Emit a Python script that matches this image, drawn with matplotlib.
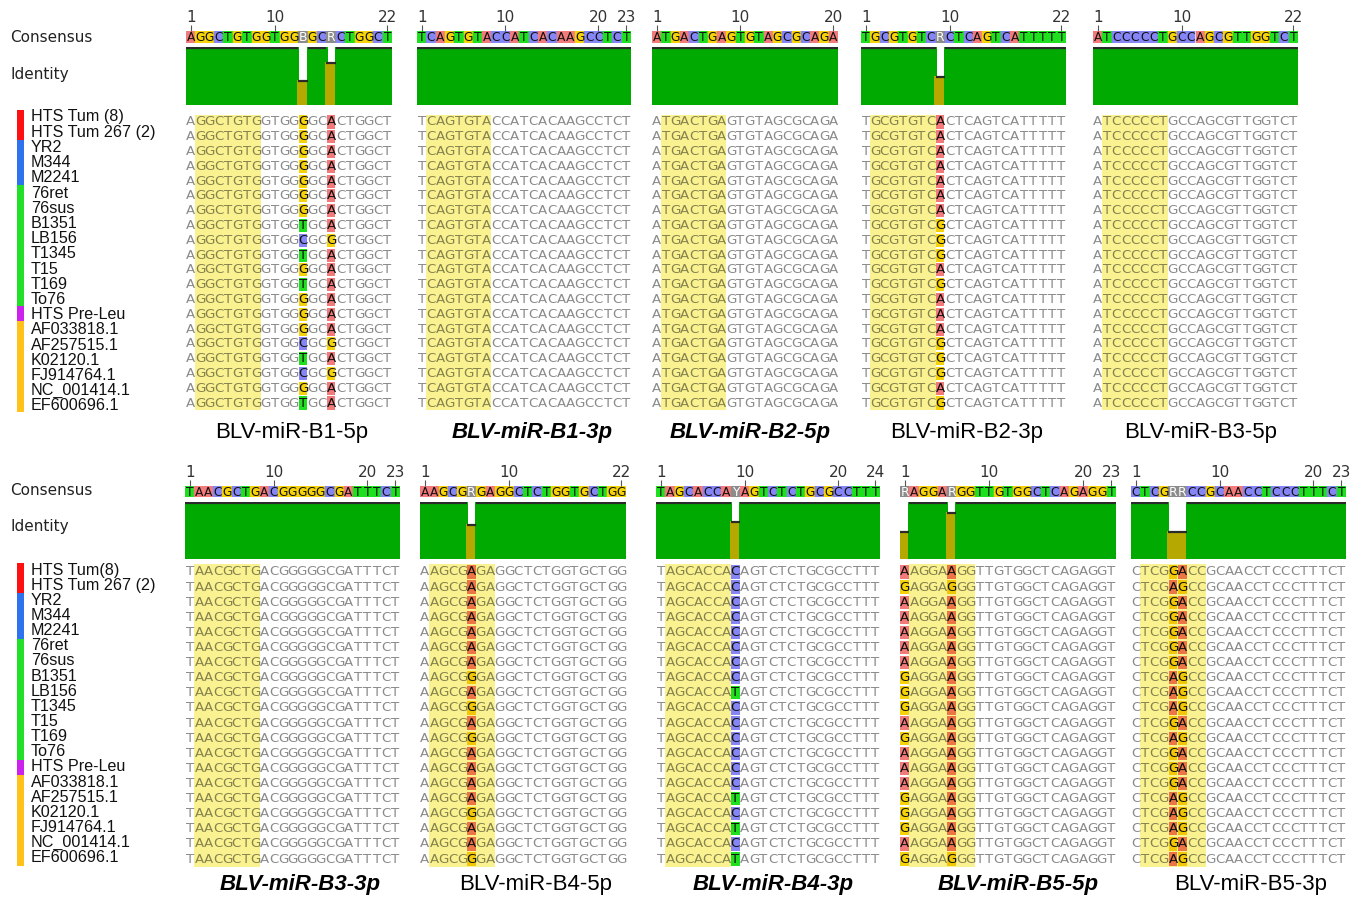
import matplotlib
matplotlib.use("Agg")
import matplotlib.pyplot as plt
from matplotlib.patches import Rectangle
from matplotlib.colors import to_rgb
from collections import Counter

W, H = 1351, 897

# ---------------- data ----------------
sample_labels_top = ["HTS Tum (8)", "HTS Tum 267 (2)", "YR2", "M344", "M2241", "76ret", "76sus",
                     "B1351", "LB156", "T1345", "T15", "T169", "To76", "HTS Pre-Leu",
                     "AF033818.1", "AF257515.1", "K02120.1", "FJ914764.1", "NC_001414.1", "EF600696.1"]
sample_labels_bottom = ["HTS Tum(8)", "HTS Tum 267 (2)", "YR2", "M344", "M2241", "76ret", "76sus",
                        "B1351", "LB156", "T1345", "T15", "T169", "To76", "HTS Pre-Leu",
                        "AF033818.1", "AF257515.1", "K02120.1", "FJ914764.1", "NC_001414.1", "EF600696.1"]
group_sizes = [2, 3, 8, 1, 6]
group_colors = ["#ff1010", "#2f72f0", "#22e02a", "#cc22ee", "#ffc21a"]

mirna_names = ["BLV-miR-B1-5p", "BLV-miR-B1-3p", "BLV-miR-B2-5p", "BLV-miR-B2-3p", "BLV-miR-B3-5p",
               "BLV-miR-B3-3p", "BLV-miR-B4-5p", "BLV-miR-B4-3p", "BLV-miR-B5-5p", "BLV-miR-B5-3p"]
title_bold = [False, True, True, False, False, True, False, True, True, False]

consensus_seqs = ["AGGCTGTGGTGGBGCRCTGGCT",
                  "TCAGTGTACCATCACAAGCCTCT",
                  "ATGACTGAGTGTAGCGCAGA",
                  "TGCGTGTCRCTCAGTCATTTTT",
                  "ATCCCCCTGCCAGCGTTGGTCT",
                  "TAACGCTGACGGGGGCGATTTCT",
                  "AAGCGRGAGGCTCTGGTGCTGG",
                  "TAGCACCAYAGTCTCTGCGCCTTT",
                  "RAGGARGGTTGTGGCTCAGAGGT",
                  "CTCGRRCCGCAACCTCCCTTTCT"]

# position ruler labels shown above each consensus
ruler_ticks = [[1, 10, 22], [1, 10, 20, 23], [1, 10, 20], [1, 10, 22], [1, 10, 22],
               [1, 10, 20, 23], [1, 10, 22], [1, 10, 20, 24], [1, 10, 20, 23], [1, 10, 20, 23]]

# variable columns: position -> bases of the 20 samples (top to bottom)
variable_columns = [
    {13: "GGGGGGGTCTGTGGGCTCGT", 16: "AAAAAAAAGAAAAAAGAGAA"},
    {},
    {},
    {9: "AAAAAAAGGGAGAAAGGGAG"},
    {},
    {},
    {6: "AAAAAAAGAGAGAAAAGAAG"},
    {9: "CCCCCCCCTCCCCCCTCTCT"},
    {1: "AGAAAAAGGGAGAAAGGGAG", 6: "AGAAAAAAAAAAAAAAAAAG"},
    {5: "GAGGGGGAAAGAGGGAAAGA", 6: "AGAAAAAGGGAGAAAGGGAG"},
]
seed_positions = (2, 8)

# ---------------- layout (pixels) ----------------
panel_x = [(186, 392), (417, 631), (652, 838), (861, 1066), (1093, 1298),
           (185, 400), (420, 626), (656, 880), (900, 1116), (1131, 1346)]
rows_layout = [
    dict(cons=(31, 43), ident=(47, 105), seq=(114.6, 410.4), title=432,
         lab_cons=37, lab_ident=74, lab_first=117, lab_step=15.2, bar=(110, 412)),
    dict(cons=(486, 497), ident=(502, 559), seq=(564.4, 866.6), title=884,
         lab_cons=490, lab_ident=527, lab_first=570, lab_step=15.15, bar=(563, 866)),
]
title_offset = [3, 8, 5, 3, 5, 8, 13, 5, 10, 12]

NUC = {"A": "#f27a7a", "C": "#8585f5", "G": "#f6d20a", "T": "#1fe01f"}
AMBIG = "#8c8c8c"
HILITE = "#faf290"
GREEN = "#00aa00"
OLIVE = "#b5a800"


def multiply(c1, c2):
    a, b = to_rgb(c1), to_rgb(c2)
    return tuple(x * y for x, y in zip(a, b))


def rect(x0, y0, x1, y1):
    return [x0 / W, 1 - y1 / H, (x1 - x0) / W, (y1 - y0) / H]


def identity(col):
    n = len(col)
    cnt = Counter(col)
    same = sum(v * (v - 1) / 2 for v in cnt.values())
    return 100.0 * same / (n * (n - 1) / 2)


fig = plt.figure(figsize=(W / 100, H / 100), dpi=100)

nrows = len(sample_labels_top)

for p, cons in enumerate(consensus_seqs):
    L = rows_layout[p // 5]
    x0, x1 = panel_x[p]
    n = len(cons)
    reads = []
    for r in range(nrows):
        s = list(cons)
        for pos, col in variable_columns[p].items():
            s[pos - 1] = col[r]
        reads.append(s)

    # consensus strip
    ax = fig.add_axes(rect(x0, L["cons"][0], x1, L["cons"][1]))
    ax.set_xlim(0.5, n + 0.5)
    ax.set_ylim(0, 1)
    for i, ch in enumerate(cons, start=1):
        fc = NUC.get(ch, AMBIG)
        ax.add_patch(Rectangle((i - 0.5, 0), 1, 1, facecolor=fc, edgecolor=fc, linewidth=0.3))
        ax.text(i, 0.45, ch, ha="center", va="center", fontsize=8.8,
                color="white" if ch not in NUC else "#111111")
    ax.set_xticks(ruler_ticks[p])
    ax.set_yticks([])
    ax.xaxis.set_ticks_position("top")
    ax.tick_params(axis="x", top=True, bottom=False, length=4, width=0.8, color="#555555",
                   labelsize=11, labelcolor="#333333", pad=0.5)
    for s in ax.spines.values():
        s.set_visible(False)

    # identity bars
    ax = fig.add_axes(rect(x0, L["ident"][0], x1, L["ident"][1]))
    idv = [identity([reads[r][i] for r in range(nrows)]) for i in range(n)]
    pos = list(range(1, n + 1))
    cols = [GREEN if v >= 99.9 else OLIVE for v in idv]
    bars = ax.bar(pos, idv, width=1.0, color=cols, edgecolor=cols, linewidth=0.8)
    for b in bars:
        b.set_snap(False)
        b.set_antialiased(False)
    for i, v in zip(pos, idv):
        ax.plot([i - 0.5, i + 0.5], [v, v], color="#2a2a2a", lw=1.6, solid_capstyle="butt")
    ax.set_xlim(0.5, n + 0.5)
    ax.set_ylim(0, 101)
    ax.axis("off")

    # sequences
    ax = fig.add_axes(rect(x0, L["seq"][0], x1, L["seq"][1]))
    ax.set_xlim(0.5, n + 0.5)
    ax.set_ylim(nrows + 0.5, 0.5)
    ax.axis("off")
    s0, s1 = seed_positions
    ax.add_patch(Rectangle((s0 - 0.5, 0.5), s1 - s0 + 1, nrows, facecolor=HILITE, edgecolor="none"))
    for r in range(nrows):
        for i, ch in enumerate(reads[r], start=1):
            inseed = s0 <= i <= s1
            if i in variable_columns[p]:
                c = NUC[ch]
                if inseed:
                    c = multiply(c, HILITE)
                ax.add_patch(Rectangle((i - 0.45, r + 1 - 0.44), 0.9, 0.88, facecolor=c, edgecolor="none"))
                tc = "#111111"
            else:
                tc = "#85824e" if inseed else "#8a8a8a"
            ax.text(i, r + 1, ch, ha="center", va="center", fontsize=9.6, color=tc)

    # title
    fig.text(((x0 + x1) / 2 + title_offset[p]) / W, 1 - L["title"] / H, mirna_names[p],
             ha="center", va="center", fontsize=16, family="Liberation Sans",
             fontweight="bold" if title_bold[p] else "normal",
             style="italic" if title_bold[p] else "normal")

# left-side labels
for k, L in enumerate(rows_layout):
    labels = sample_labels_top if k == 0 else sample_labels_bottom
    fig.text(10 / W, 1 - L["lab_cons"] / H, "Consensus", ha="left", va="center", fontsize=11, color="#222222")
    fig.text(10 / W, 1 - L["lab_ident"] / H, "Identity", ha="left", va="center", fontsize=11, color="#222222")
    for r, lab in enumerate(labels):
        fig.text(31 / W, 1 - (L["lab_first"] + r * L["lab_step"]) / H, lab, ha="left", va="center",
                 fontsize=11.6, family="Liberation Sans", color="#111111")
    # group colour bar
    b0, b1 = L["bar"]
    step = (b1 - b0) / nrows
    start = 0
    for gsize, gcol in zip(group_sizes, group_colors):
        ya = b0 + start * step
        yb = b0 + (start + gsize) * step
        fig.patches.append(Rectangle((17 / W, 1 - yb / H), 7 / W, (yb - ya) / H,
                                     transform=fig.transFigure, facecolor=gcol, edgecolor="none"))
        start += gsize

fig.savefig("out.png", dpi=100, facecolor="white")
